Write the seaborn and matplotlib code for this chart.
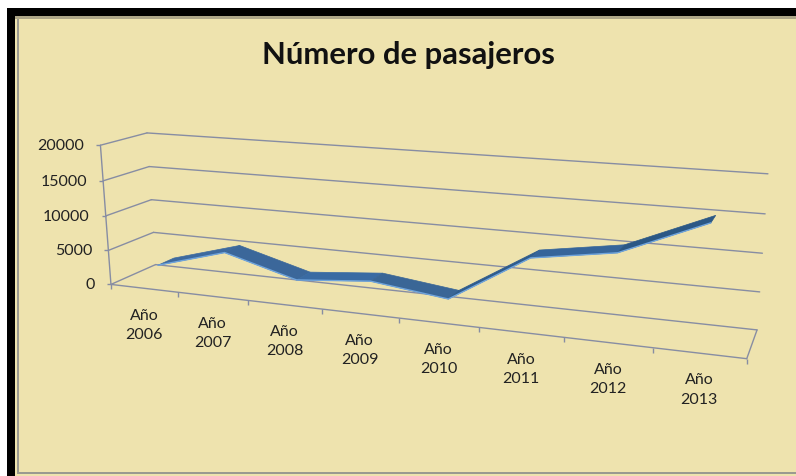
import numpy as np
import pandas as pd
import matplotlib
matplotlib.use("Agg")
import matplotlib.pyplot as plt
from matplotlib.markers import TICKDOWN, TICKLEFT
from matplotlib.patches import Polygon, Rectangle
from matplotlib.path import Path
from matplotlib.transforms import Transform, IdentityTransform
import seaborn as sns

# ---- data ----
years = ["Año 2006", "Año 2007", "Año 2008", "Año 2009",
         "Año 2010", "Año 2011", "Año 2012", "Año 2013"]
passengers = [2400, 5300, 2450, 3400, 2100, 8700, 10400, 15100]
value_ticks = [0, 5000, 10000, 15000, 20000]
title = "Número de pasajeros"

# ---- style ----
W, H = 796, 477
BG = "#EEE3AE"
GRID = "#878DA3"
EDGE = "#6FA4DC"
SEG = ["#3D6A9F", "#3B679A", "#3A6BA3", "#3A6696", "#2E5C8D", "#36659A", "#2B5885"]
TEXT = "#222222"
RIB_FRONT, RIB_BACK = 0.33, 0.70

# camera calibration: (category pos, value, depth) -> pixel
CAL = [
    (0, 0, 0, 112, 285), (0, 5000, 0, 107.3, 250), (0, 10000, 0, 105, 216),
    (0, 15000, 0, 102.7, 181.3), (0, 20000, 0, 102, 147),
    (0, 0, 1, 157, 266), (0, 5000, 1, 152.7, 233.3), (0, 10000, 1, 150.7, 200.7),
    (0, 15000, 1, 149.3, 167.7), (0, 20000, 1, 146.7, 134),
    (8, 0, 1, 756.7, 330), (8, 5000, 1, 760, 292.7), (8, 10000, 1, 762.7, 254.3),
    (8, 15000, 1, 765, 215), (8, 20000, 1, 768, 175),
    (8, 0, 0, 747, 359.5), (1, 0, 0, 178, 294), (2, 0, 0, 248, 302),
    (3, 0, 0, 322, 311), (4, 0, 0, 398, 320), (5, 0, 0, 480, 328),
    (6, 0, 0, 563, 338), (7, 0, 0, 653, 349),
]


def fit_camera(cal):
    rows = []
    for x, v, d, px, py in cal:
        p = [x / 8, v / 20000, d, 1]
        rows.append([*p, 0, 0, 0, 0, *[-px / 800 * c for c in p]])
        rows.append([0, 0, 0, 0, *p, *[-py / 800 * c for c in p]])
    _, _, vt = np.linalg.svd(np.array(rows))
    return vt[-1].reshape(3, 4)


CAM = fit_camera(CAL)


class Persp(Transform):
    """Maps (category, value) on a plane of fixed depth, or (depth, value)
    on a plane of fixed category, to display pixels."""
    input_dims = output_dims = 2
    is_affine = False
    has_inverse = False

    def __init__(self, plane_depth=None, plane_cat=None):
        super().__init__()
        self.plane_depth, self.plane_cat = plane_depth, plane_cat

    def transform_non_affine(self, values):
        a = np.asarray(values, float)
        if self.plane_depth is not None:
            x, d = a[:, 0], np.full(len(a), self.plane_depth)
        else:
            x, d = np.full(len(a), self.plane_cat), a[:, 0]
        h = np.c_[x / 8, a[:, 1] / 20000, d, np.ones(len(a))] @ CAM.T
        px = h[:, 0] / h[:, 2] * 800
        py = h[:, 1] / h[:, 2] * 800
        return np.c_[px, H - py]

    def transform_path_non_affine(self, path):
        return Path(self.transform_non_affine(path.vertices), path.codes)


sns.set_theme(style="white")
plt.rcParams["font.family"] = ["Lato", "DejaVu Sans"]

fig = plt.figure(figsize=(W / 100, H / 100), dpi=100, facecolor="white")


def px_rect(x0, y0, x1, y1, color):
    fig.add_artist(Rectangle((x0, H - y1), x1 - x0, y1 - y0, transform=IdentityTransform(),
                             facecolor=color, edgecolor="none", zorder=-1))


px_rect(15, 17, W, H, BG)
px_rect(6.5, 9, W, 17, "#000000")
px_rect(6.5, 9, 15, H, "#000000")
px_rect(15, 17, W, 20, "#ADA688")
px_rect(17, 20, 18.5, 474.5, "#9A9A90")
px_rect(17, 473, W, 475, "#9A9A90")

ax = fig.add_axes([0, 0, 1, 1])
ax.set_zorder(5)
ax.set_xlim(0, 8)
ax.set_ylim(0, 20000)
ax.axis("off")
ax.patch.set_alpha(0)

back, front = Persp(plane_depth=1), Persp(plane_depth=0)
left, right = Persp(plane_cat=0), Persp(plane_cat=8)
line = dict(color=GRID, lw=1.0, clip_on=False, solid_capstyle="round")

for v in value_ticks:
    ax.plot([0, 8], [v, v], transform=back, **line)
    ax.plot([0, 1], [v, v], transform=left, **line)
ax.plot([0, 8], [0, 0], transform=front, **line)
ax.plot([0, 0], [0, 20000], transform=front, **line)
ax.plot([0, 1], [0, 0], transform=right, **line)

ax.plot(range(9), [0] * 9, ls="", marker=TICKDOWN, ms=3.6, mew=1.0, color=GRID,
        transform=front, clip_on=False)
ax.plot([0] * 5, value_ticks, ls="", marker=TICKLEFT, ms=3.2, mew=1.0, color=GRID,
        transform=front, clip_on=False)

# ribbon
pos = np.arange(len(years)) + 0.5
df = pd.DataFrame({"pos": pos, "passengers": passengers, "year": years})
pts = df[["pos", "passengers"]].to_numpy()
f_pts = Persp(plane_depth=RIB_FRONT).transform(pts)
b_pts = Persp(plane_depth=RIB_BACK).transform(pts)
for i in range(len(pts) - 1):
    quad = np.vstack([f_pts[i], f_pts[i + 1], b_pts[i + 1], b_pts[i]])
    ax.add_patch(Polygon(quad, closed=True, transform=IdentityTransform(),
                         facecolor=SEG[i], edgecolor=SEG[i], lw=0.5, zorder=3, clip_on=False))

sns.lineplot(data=df, x="pos", y="passengers", ax=ax, estimator=None, sort=False,
             color=EDGE, lw=1.0, transform=Persp(plane_depth=RIB_FRONT), clip_on=False, zorder=4)
ax.set_xlim(0, 8)
ax.set_ylim(0, 20000)

# text
for p, label in zip(pos, years):
    ax.annotate(label.replace(" ", "\n"), xy=(p, 0), xycoords=front,
                xytext=(0, -36 * 0.72), textcoords="offset points",
                ha="center", va="center", fontsize=11.5, color=TEXT, linespacing=1.5)
for v in value_ticks:
    ax.annotate(str(v), xy=(0, v), xycoords=front, xytext=(-16 * 0.72, 0),
                textcoords="offset points", ha="right", va="center",
                fontsize=11.5, color=TEXT)
fig.text(408 / W, 1 - 55 / H, title, ha="center", va="center",
         fontsize=22.3, fontweight="bold", color="#111111")

fig.savefig("out.png", dpi=100)
